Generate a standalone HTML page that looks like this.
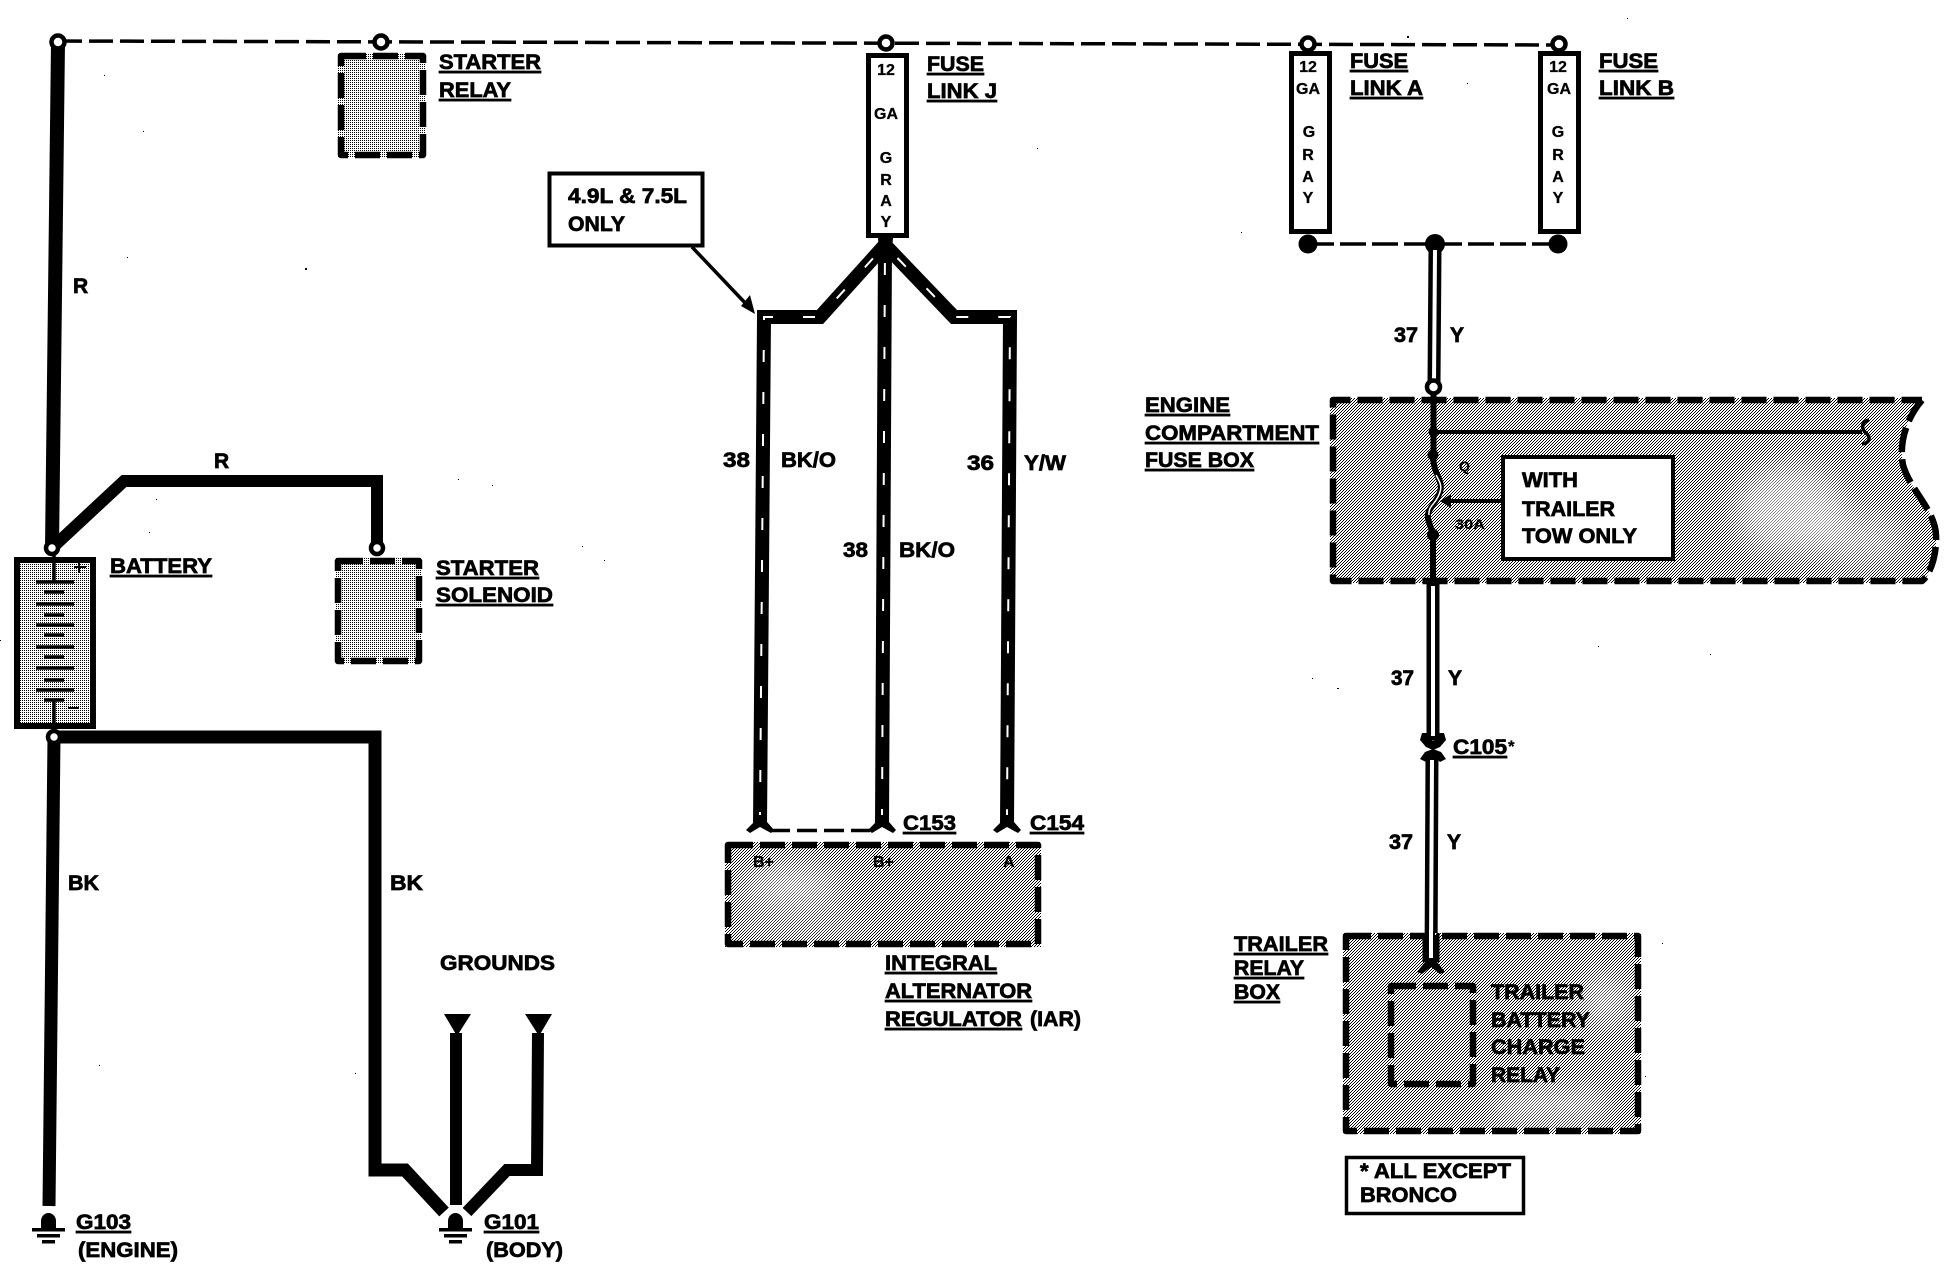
<!DOCTYPE html>
<html><head><meta charset="utf-8"><title>Charging system wiring diagram</title>
<style>
html,body{margin:0;padding:0;background:#fff}
svg{display:block}
text{font-family:"Liberation Sans",sans-serif;font-weight:700;fill:#000;stroke:#000;stroke-width:.7}
.l{font-size:21px}
.u{text-decoration:underline}
.s{font-size:16px;text-anchor:middle;stroke-width:.3}
.t{font-size:13px;stroke-width:.2}
.w{fill:none;stroke:#000;stroke-linejoin:miter}
.tr{fill:none;stroke:#fff;stroke-width:2;stroke-dasharray:12 30;stroke-dashoffset:24}
.d{fill:none;stroke:#000;stroke-width:6.5;stroke-dasharray:25 7;stroke-linecap:butt;stroke-linejoin:round}
.c{fill:#fff;stroke:#000;stroke-width:4.5}
</style></head><body>
<svg width="1950" height="1264" viewBox="0 0 1950 1264" xmlns="http://www.w3.org/2000/svg">
<defs>
<pattern id="hl" width="2" height="2" patternUnits="userSpaceOnUse" shape-rendering="crispEdges">
<rect width="2" height="2" fill="#fff"/>
<rect x="0" y="0" width="1" height="1" fill="#000"/>
</pattern>
<pattern id="ht" width="3" height="3" patternUnits="userSpaceOnUse" shape-rendering="crispEdges">
<rect width="3" height="3" fill="#fff"/>
<rect x="0" y="0" width="1" height="1" fill="#000"/>
<rect x="1" y="2" width="1" height="1" fill="#000"/>
<rect x="2" y="1" width="1" height="1" fill="#000"/>
</pattern>
<filter id="b" x="-50%" y="-50%" width="200%" height="200%"><feGaussianBlur stdDeviation="14"/></filter>
<clipPath id="ce"><path d="M1330 398H1922C1905 420 1899 445 1903 465C1910 490 1935 510 1936 535C1937 555 1930 575 1922 583H1330Z"/></clipPath>
<clipPath id="ca"><rect x="725" y="842" width="316" height="105"/></clipPath>
<clipPath id="ct"><rect x="1343" y="933" width="298" height="201"/></clipPath>
</defs>

<!-- top bus -->
<path d="M58 41 L1559 45" fill="none" stroke="#000" stroke-width="3.5" stroke-dasharray="24 7"/>

<!-- Starter relay -->
<rect x="338" y="53" width="88" height="105" fill="url(#hl)"/>
<rect x="341" y="56" width="82" height="99" class="d"/>
<!-- Starter solenoid -->
<rect x="335" y="558" width="87" height="106" fill="url(#hl)"/>
<rect x="338" y="561" width="81" height="100" class="d"/>

<!-- R wires -->
<path class="w" stroke-width="14" d="M58 42 L52 548"/>
<path class="w" stroke-width="12" d="M52 548 L124 481 H377 V548"/>
<!-- battery -->
<rect x="17" y="560" width="76" height="166" fill="url(#hl)" stroke="#000" stroke-width="6"/>
<g fill="none" stroke="#000" stroke-width="3.5">
<path d="M54 548V582M36 582H74M44 592H64M36 604H74M44 615H64M36 625H74M44 635H64M36 647H74M44 657H64M36 668H74M44 680H64M36 690H74M44 700H64M54 700V737"/>
<path stroke-width="2" d="M74 567H86M79 561V573M68 708H79"/>
</g>
<!-- BK wires -->
<path class="w" stroke-width="13" d="M54 737 H375 V1170 H405 L444 1212"/>
<path class="w" stroke-width="13" d="M54 737 L49 1206"/>
<path class="w" stroke-width="12" d="M456 1033 V1205"/>
<path class="w" stroke-width="12" d="M538 1033 L537 1170 H507 L467 1212"/>
<path d="M444 1014H471L457 1036ZM525 1014H552L539 1036Z"/>
<!-- grounds -->
<g id="g1">
<path d="M41 1228 V1221 A7.5 8 0 0 1 56 1221 V1228Z"/>
<rect x="32" y="1228" width="33" height="3.5"/><rect x="37" y="1234" width="23" height="3.5"/><rect x="42" y="1240" width="13" height="3.5"/>
</g>
<g transform="translate(407 0)">
<path d="M41 1228 V1221 A7.5 8 0 0 1 56 1221 V1228Z"/>
<rect x="32" y="1228" width="33" height="3.5"/><rect x="37" y="1234" width="23" height="3.5"/><rect x="42" y="1240" width="13" height="3.5"/>
</g>

<!-- circles -->
<circle class="c" cx="58" cy="42" r="6.5"/>
<circle class="c" cx="381" cy="42" r="6.5"/>
<circle class="c" cx="886" cy="43" r="6.5"/>
<circle class="c" cx="1308" cy="44" r="6.5"/>
<circle class="c" cx="1559" cy="44" r="6.5"/>
<circle class="c" cx="52" cy="548" r="6"/>
<circle class="c" cx="377" cy="548" r="6"/>
<circle class="c" cx="54" cy="737" r="6"/>

<!-- Note box 4.9L -->
<rect x="549.5" y="173.500" width="153" height="72" fill="#fff" stroke="#000" stroke-width="4"/>
<text class="l" x="568" y="203" textLength="119" lengthAdjust="spacingAndGlyphs">4.9L &amp; 7.5L</text>
<text class="l" x="568" y="231" textLength="57" lengthAdjust="spacingAndGlyphs">ONLY</text>
<path d="M692 247 L748 306" stroke="#000" stroke-width="3.5" fill="none"/>
<path d="M755 314 L741 306 L750 295Z"/>

<!-- fuse links -->
<g fill="#fff" stroke="#000" stroke-width="5">
<rect x="868.500" y="55.500" width="38" height="180"/>
<rect x="1291.500" y="53.500" width="38" height="178"/>
<rect x="1540.500" y="53.500" width="38" height="178"/>
</g>
<g>
<text class="s" x="886" y="75">12</text><text class="s" x="886" y="119">GA</text><text class="s" x="886" y="163">G</text><text class="s" x="886" y="185">R</text><text class="s" x="886" y="206">A</text><text class="s" x="886" y="227">Y</text>
<text class="s" x="1308" y="72">12</text><text class="s" x="1308" y="94">GA</text><text class="s" x="1309" y="137">G</text><text class="s" x="1308" y="160">R</text><text class="s" x="1308" y="182">A</text><text class="s" x="1308" y="203">Y</text>
<text class="s" x="1558" y="72">12</text><text class="s" x="1559" y="94">GA</text><text class="s" x="1558" y="137">G</text><text class="s" x="1558" y="160">R</text><text class="s" x="1558" y="182">A</text><text class="s" x="1558" y="203">Y</text>
</g>

<!-- BK/O, Y/W wires -->
<path d="M878 238H893L892 250H879Z"/>
<path class="w" stroke-width="14" d="M885 245 L820 317 H764 L760 826"/>
<path class="w" stroke-width="14" d="M885 245 L882 826"/>
<path class="w" stroke-width="14" d="M885 245 L954 317 H1010 L1007 826"/>
<path class="tr" d="M885 245 L820 317 H764 L760 815"/>
<path class="tr" d="M885 245 L882 815"/>
<path class="tr" d="M885 245 L954 317 H1010 L1007 815"/>
<!-- connector flares -->
<path d="M754 815H767V822L774 830L771 833L760 827L750 833L746 830L754 822Z"/>
<path d="M876 815H889V822L896 830L893 833L882 827L872 833L868 830L876 822Z"/>
<path d="M1001 815H1014V822L1021 830L1018 833L1007 827L997 833L993 830L1001 822Z"/>
<path d="M770 830.500H870" stroke="#000" stroke-width="3.5" stroke-dasharray="20 7" fill="none"/>

<!-- Alternator box -->
<rect x="725" y="842" width="316" height="105" fill="url(#ht)"/>
<g clip-path="url(#ca)" fill="#fff" filter="url(#b)">
<ellipse cx="790" cy="885" rx="50" ry="18" opacity=".55"/>
<ellipse cx="800" cy="925" rx="70" ry="16" opacity=".25"/>
</g>
<rect x="728" y="845" width="310" height="99" class="d"/>
<text class="s" style="text-anchor:start" x="753" y="867">B+</text>
<text class="s" style="text-anchor:start" x="873" y="867">B+</text>
<text class="s" style="text-anchor:start" x="1003" y="867">A</text>

<!-- Right side bus -->
<path d="M1308 244H1558" stroke="#000" stroke-width="3.5" stroke-dasharray="26 6" fill="none"/>
<circle cx="1308" cy="244" r="9.5"/><circle cx="1435" cy="244" r="10"/><circle cx="1558" cy="244" r="9.5"/>
<path class="w" stroke-width="13" d="M1435 250 L1434 382"/>
<path d="M1435 250 L1434 382" stroke="#fff" stroke-width="4" fill="none"/>

<!-- Engine compartment fuse box -->
<path d="M1330 398H1922C1905 420 1899 445 1903 465C1910 490 1935 510 1936 535C1937 555 1930 575 1922 583H1330Z" fill="url(#ht)"/>
<g clip-path="url(#ce)" fill="#fff" filter="url(#b)">
<ellipse cx="1790" cy="510" rx="55" ry="45" opacity=".55"/>
<ellipse cx="1860" cy="540" rx="45" ry="28" opacity=".4"/>
</g>
<path d="M1922 400C1905 420 1899 445 1903 465C1910 490 1935 510 1936 535C1937 555 1930 575 1922 581H1333V400H1922" class="d"/>
<path class="w" stroke-width="6" d="M1433.500 392 V455"/>
<path class="w" stroke-width="6" d="M1433 535 V583"/>
<path class="w" stroke-width="4" d="M1433 432 H1862"/>
<path d="M1869 420 C1860 422 1862 430 1866 433 C1871 437 1870 443 1862 444" fill="none" stroke="#000" stroke-width="3.500"/>
<circle cx="1433.500" cy="432" r="5"/><circle cx="1433" cy="455" r="5.500"/><circle cx="1433" cy="535" r="6"/>
<path d="M1433 455 C1433 475 1444 480 1440 492 C1436 505 1424 510 1429 522 L1433 535" fill="none" stroke="#000" stroke-width="6"/>
<path d="M1436 475 C1440 482 1442 486 1440 492 C1436 505 1428 505 1429 515" fill="none" stroke="#fff" stroke-width="1.500"/>
<path d="M1501 501 H1448" stroke="#000" stroke-width="4" fill="none"/>
<path d="M1440 501 L1451 494 V508Z"/>
<rect x="1503" y="457" width="170" height="102" fill="#fff" stroke="#000" stroke-width="4"/>
<circle class="c" cx="1433.500" cy="387" r="6.500"/>
<text class="t" x="1459" y="471" style="font-size:14px">Q</text>
<text class="t" x="1455" y="529" textLength="30" lengthAdjust="spacingAndGlyphs" style="font-size:14px">30A</text>
<text class="l" x="1522" y="487" textLength="56" lengthAdjust="spacingAndGlyphs">WITH</text>
<text class="l" x="1522" y="516" textLength="93" lengthAdjust="spacingAndGlyphs">TRAILER</text>
<text class="l" x="1522" y="543" textLength="115" lengthAdjust="spacingAndGlyphs">TOW ONLY</text>

<!-- Y wire lower -->
<path class="w" stroke-width="13" d="M1433 583 V740"/>
<path stroke="#fff" stroke-width="4" fill="none" d="M1433 586 V736"/>
<path d="M1422 733 L1427 733 L1433 741 L1439 733 L1444 733 L1446 740 L1440 747 L1433 750 L1426 747 L1420 740Z"/>
<path d="M1420 759 L1425 752 L1433 749 L1441 752 L1446 759 L1440 762 L1433 755 L1426 762Z"/>
<path class="w" stroke-width="13" d="M1432 755 L1431 966"/>
<path stroke="#fff" stroke-width="4" fill="none" d="M1432 760 L1431 950"/>

<!-- Trailer relay box -->
<rect x="1343" y="933" width="298" height="201" fill="url(#ht)"/>
<g clip-path="url(#ct)" fill="#fff" filter="url(#b)">
<ellipse cx="1605" cy="1000" rx="22" ry="25" opacity=".5"/>
<rect x="1495" y="1092" width="110" height="26" opacity=".55"/>
</g>
<rect x="1346" y="936" width="292" height="195" class="d"/>
<rect x="1391" y="986" width="82" height="98" class="d"/>
<path d="M1425 935H1437V962L1445 972L1440 974L1431 967L1422 974L1417 972L1425 962Z"/>
<path d="M1431 930V958" stroke="#fff" stroke-width="4" fill="none"/>
<path d="M1424 933V962M1438 933V962" stroke="#000" stroke-width="3" fill="none"/>
<text class="l" x="1491" y="999" textLength="93" lengthAdjust="spacingAndGlyphs">TRAILER</text>
<text class="l" x="1491" y="1027" textLength="99" lengthAdjust="spacingAndGlyphs">BATTERY</text>
<text class="l" x="1491" y="1054" textLength="94" lengthAdjust="spacingAndGlyphs">CHARGE</text>
<text class="l" x="1491" y="1082" textLength="69" lengthAdjust="spacingAndGlyphs">RELAY</text>

<!-- Note -->
<rect x="1346.500" y="1157.500" width="177" height="56" fill="#fff" stroke="#000" stroke-width="3.500"/>
<text class="l" x="1360" y="1178" textLength="151" lengthAdjust="spacingAndGlyphs">* ALL EXCEPT</text>
<text class="l" x="1360" y="1202" textLength="97" lengthAdjust="spacingAndGlyphs">BRONCO</text>

<!-- Labels -->
<g>
<text class="l u" x="439" y="69" textLength="102" lengthAdjust="spacingAndGlyphs">STARTER</text>
<text class="l u" x="439" y="97" textLength="72" lengthAdjust="spacingAndGlyphs">RELAY</text>
<text class="l" x="73" y="293">R</text>
<text class="l" x="214" y="468">R</text>
<text class="l u" x="110" y="573" textLength="102" lengthAdjust="spacingAndGlyphs">BATTERY</text>
<text class="l u" x="436" y="575" textLength="103" lengthAdjust="spacingAndGlyphs">STARTER</text>
<text class="l u" x="436" y="602" textLength="117" lengthAdjust="spacingAndGlyphs">SOLENOID</text>
<text class="l" x="68" y="890" textLength="31" lengthAdjust="spacingAndGlyphs">BK</text>
<text class="l" x="390" y="890" textLength="33" lengthAdjust="spacingAndGlyphs">BK</text>
<text class="l" x="440" y="970" textLength="115" lengthAdjust="spacingAndGlyphs">GROUNDS</text>
<text class="l u" x="76" y="1229" textLength="55" lengthAdjust="spacingAndGlyphs">G103</text>
<text class="l" x="78" y="1257" textLength="100" lengthAdjust="spacingAndGlyphs">(ENGINE)</text>
<text class="l u" x="484" y="1229" textLength="55" lengthAdjust="spacingAndGlyphs">G101</text>
<text class="l" x="486" y="1257" textLength="77" lengthAdjust="spacingAndGlyphs">(BODY)</text>

<text class="l u" x="927" y="71" textLength="57" lengthAdjust="spacingAndGlyphs">FUSE</text>
<text class="l u" x="927" y="98" textLength="70" lengthAdjust="spacingAndGlyphs">LINK J</text>
<text class="l u" x="1350" y="68" textLength="58" lengthAdjust="spacingAndGlyphs">FUSE</text>
<text class="l u" x="1350" y="95" textLength="73" lengthAdjust="spacingAndGlyphs">LINK A</text>
<text class="l u" x="1599" y="68" textLength="59" lengthAdjust="spacingAndGlyphs">FUSE</text>
<text class="l u" x="1599" y="95" textLength="75" lengthAdjust="spacingAndGlyphs">LINK B</text>

<text class="l" x="723" y="467" textLength="27" lengthAdjust="spacingAndGlyphs">38</text>
<text class="l" x="781" y="467" textLength="55" lengthAdjust="spacingAndGlyphs">BK/O</text>
<text class="l" x="843" y="557" textLength="25" lengthAdjust="spacingAndGlyphs">38</text>
<text class="l" x="899" y="557" textLength="56" lengthAdjust="spacingAndGlyphs">BK/O</text>
<text class="l" x="967" y="470" textLength="27" lengthAdjust="spacingAndGlyphs">36</text>
<text class="l" x="1024" y="470" textLength="42" lengthAdjust="spacingAndGlyphs">Y/W</text>

<text class="l u" x="903" y="830" textLength="53" lengthAdjust="spacingAndGlyphs">C153</text>
<text class="l u" x="1030" y="830" textLength="54" lengthAdjust="spacingAndGlyphs">C154</text>
<text class="l u" x="885" y="970" textLength="112" lengthAdjust="spacingAndGlyphs">INTEGRAL</text>
<text class="l u" x="885" y="998" textLength="147" lengthAdjust="spacingAndGlyphs">ALTERNATOR</text>
<text class="l u" x="885" y="1026" textLength="137" lengthAdjust="spacingAndGlyphs">REGULATOR</text>
<text class="l" x="1030" y="1026" textLength="51" lengthAdjust="spacingAndGlyphs">(IAR)</text>

<text class="l u" x="1145" y="412" textLength="85" lengthAdjust="spacingAndGlyphs">ENGINE</text>
<text class="l u" x="1145" y="440" textLength="174" lengthAdjust="spacingAndGlyphs">COMPARTMENT</text>
<text class="l u" x="1145" y="467" textLength="109" lengthAdjust="spacingAndGlyphs">FUSE BOX</text>

<text class="l" x="1394" y="342" textLength="24" lengthAdjust="spacingAndGlyphs">37</text>
<text class="l" x="1450" y="342">Y</text>
<text class="l" x="1391" y="685" textLength="23" lengthAdjust="spacingAndGlyphs">37</text>
<text class="l" x="1448" y="685">Y</text>
<text class="l" x="1389" y="849" textLength="24" lengthAdjust="spacingAndGlyphs">37</text>
<text class="l" x="1447" y="849">Y</text>
<text class="l u" x="1453" y="754" textLength="54" lengthAdjust="spacingAndGlyphs">C105</text>
<text class="t" x="1508" y="752" style="font-size:17px">*</text>

<text class="l u" x="1234" y="951" textLength="94" lengthAdjust="spacingAndGlyphs">TRAILER</text>
<text class="l u" x="1234" y="975" textLength="70" lengthAdjust="spacingAndGlyphs">RELAY</text>
<text class="l u" x="1234" y="999" textLength="46" lengthAdjust="spacingAndGlyphs">BOX</text>
</g>

<!-- specks -->
<g shape-rendering="crispEdges">
<rect x="104" y="75" width="1" height="1"/><rect x="143" y="131" width="1" height="1"/><rect x="127" y="257" width="1" height="1"/><rect x="305" y="268" width="2" height="2"/>
<rect x="458" y="479" width="1" height="1"/><rect x="492" y="485" width="1" height="1"/><rect x="156" y="499" width="1" height="1"/><rect x="149" y="532" width="1" height="1"/>
<rect x="582" y="546" width="1" height="1"/><rect x="604" y="560" width="1" height="1"/><rect x="0" y="640" width="1" height="1"/><rect x="1037" y="148" width="1" height="1"/>
<rect x="1407" y="36" width="2" height="2"/><rect x="1467" y="83" width="1" height="1"/><rect x="1627" y="18" width="1" height="1"/><rect x="1241" y="232" width="1" height="1"/>
<rect x="1598" y="646" width="1" height="1"/><rect x="1710" y="654" width="1" height="1"/><rect x="1312" y="678" width="1" height="1"/><rect x="1337" y="688" width="2" height="1"/>
<rect x="99" y="1065" width="1" height="1"/><rect x="355" y="1073" width="1" height="1"/><rect x="1662" y="943" width="1" height="1"/><rect x="1645" y="1076" width="1" height="1"/>
</g>
</svg>
</body></html>
